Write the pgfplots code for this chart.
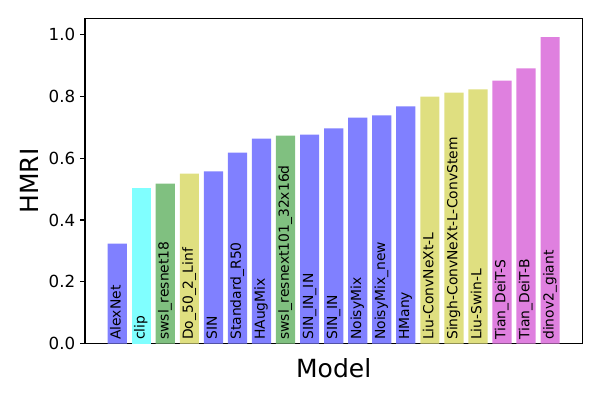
\documentclass[border=0pt]{standalone}
\usepackage{pgfplots}
\pgfplotsset{compat=1.18}
\usepackage{pgfplotstable}
\usepackage{fontspec}
\setmainfont{DejaVu Sans}
\definecolor{cblue}{HTML}{8080FF}
\definecolor{ccyan}{HTML}{80FFFF}
\definecolor{cgreen}{HTML}{80C080}
\definecolor{cyellow}{HTML}{DFDF80}
\definecolor{cmag}{HTML}{DF80DF}
\pgfplotstableread{
x y
0 0.324
4 0.557
5 0.618
6 0.663
8 0.676
9 0.696
10 0.731
11 0.738
12 0.767
}\blue
\pgfplotstableread{
x y
1 0.502
}\cyan
\pgfplotstableread{
x y
2 0.518
7 0.673
}\green
\pgfplotstableread{
x y
3 0.550
13 0.799
14 0.812
15 0.822
}\yellow
\pgfplotstableread{
x y
16 0.851
17 0.890
18 0.991
}\magenta
\begin{document}
\begin{tikzpicture}
\path[use as bounding box] (-61.2pt,-40.5pt) rectangle (370.8pt,247.5pt);
\begin{axis}[
  at={(0pt,0pt)}, anchor=south west,
  scale only axis, width=358.1pt, height=234.3pt,
  xmin=-1.34, xmax=19.34, ymin=0, ymax=1.052,
  xtick=\empty,
  ytick={0,0.2,0.4,0.6,0.8,1.0},
  yticklabel style={/pgf/number format/fixed, /pgf/number format/fixed zerofill, /pgf/number format/precision=1, font=\fontsize{12}{14}\selectfont},
  /pgf/number format/assume math mode=true,
  tick align=outside, major tick length=3.5pt,
  ytick pos=left,
  tick style={black, line width=0.8pt},
  axis line style={line width=0.8pt},
  xlabel={Model}, ylabel={HMRI},
  label style={font=\fontsize{18}{21}\selectfont},
  xlabel style={at={(axis description cs:0.5,0)}, anchor=base, yshift=-24pt},
  ylabel style={at={(axis description cs:-0.0938,0.5)}, anchor=base, rotate=0},
  every axis plot/.append style={ybar, bar width=0.8, bar shift=0pt, draw=none},
  clip=false,
]
\addplot[fill=cblue] table {\blue};
\addplot[fill=ccyan] table {\cyan};
\addplot[fill=cgreen] table {\green};
\addplot[fill=cyellow] table {\yellow};
\addplot[fill=cmag] table {\magenta};
\foreach \i/\t in {0/AlexNet,1/clip,2/swsl\_resnet18,3/Do\_50\_2\_Linf,4/SIN,5/Standard\_R50,6/HAugMix,7/swsl\_resnext101\_32x16d,8/SIN\_IN\_IN,9/SIN\_IN,10/NoisyMix,11/NoisyMix\_new,12/HMany,13/Liu-ConvNeXt-L,14/Singh-ConvNeXt-L-ConvStem,15/Liu-Swin-L,16/Tian\_DeiT-S,17/Tian\_DeiT-B,18/dinov2\_giant}{
  \edef\temp{\noexpand\node[rotate=90, anchor=west, inner sep=0pt, text height=0.73em, text depth=0.24em, font=\noexpand\fontsize{10}{12}\noexpand\selectfont] at (axis cs:\i,0.012) {\unexpanded\expandafter{\t}};}
  \temp
}
\end{axis}
\end{tikzpicture}
\end{document}
